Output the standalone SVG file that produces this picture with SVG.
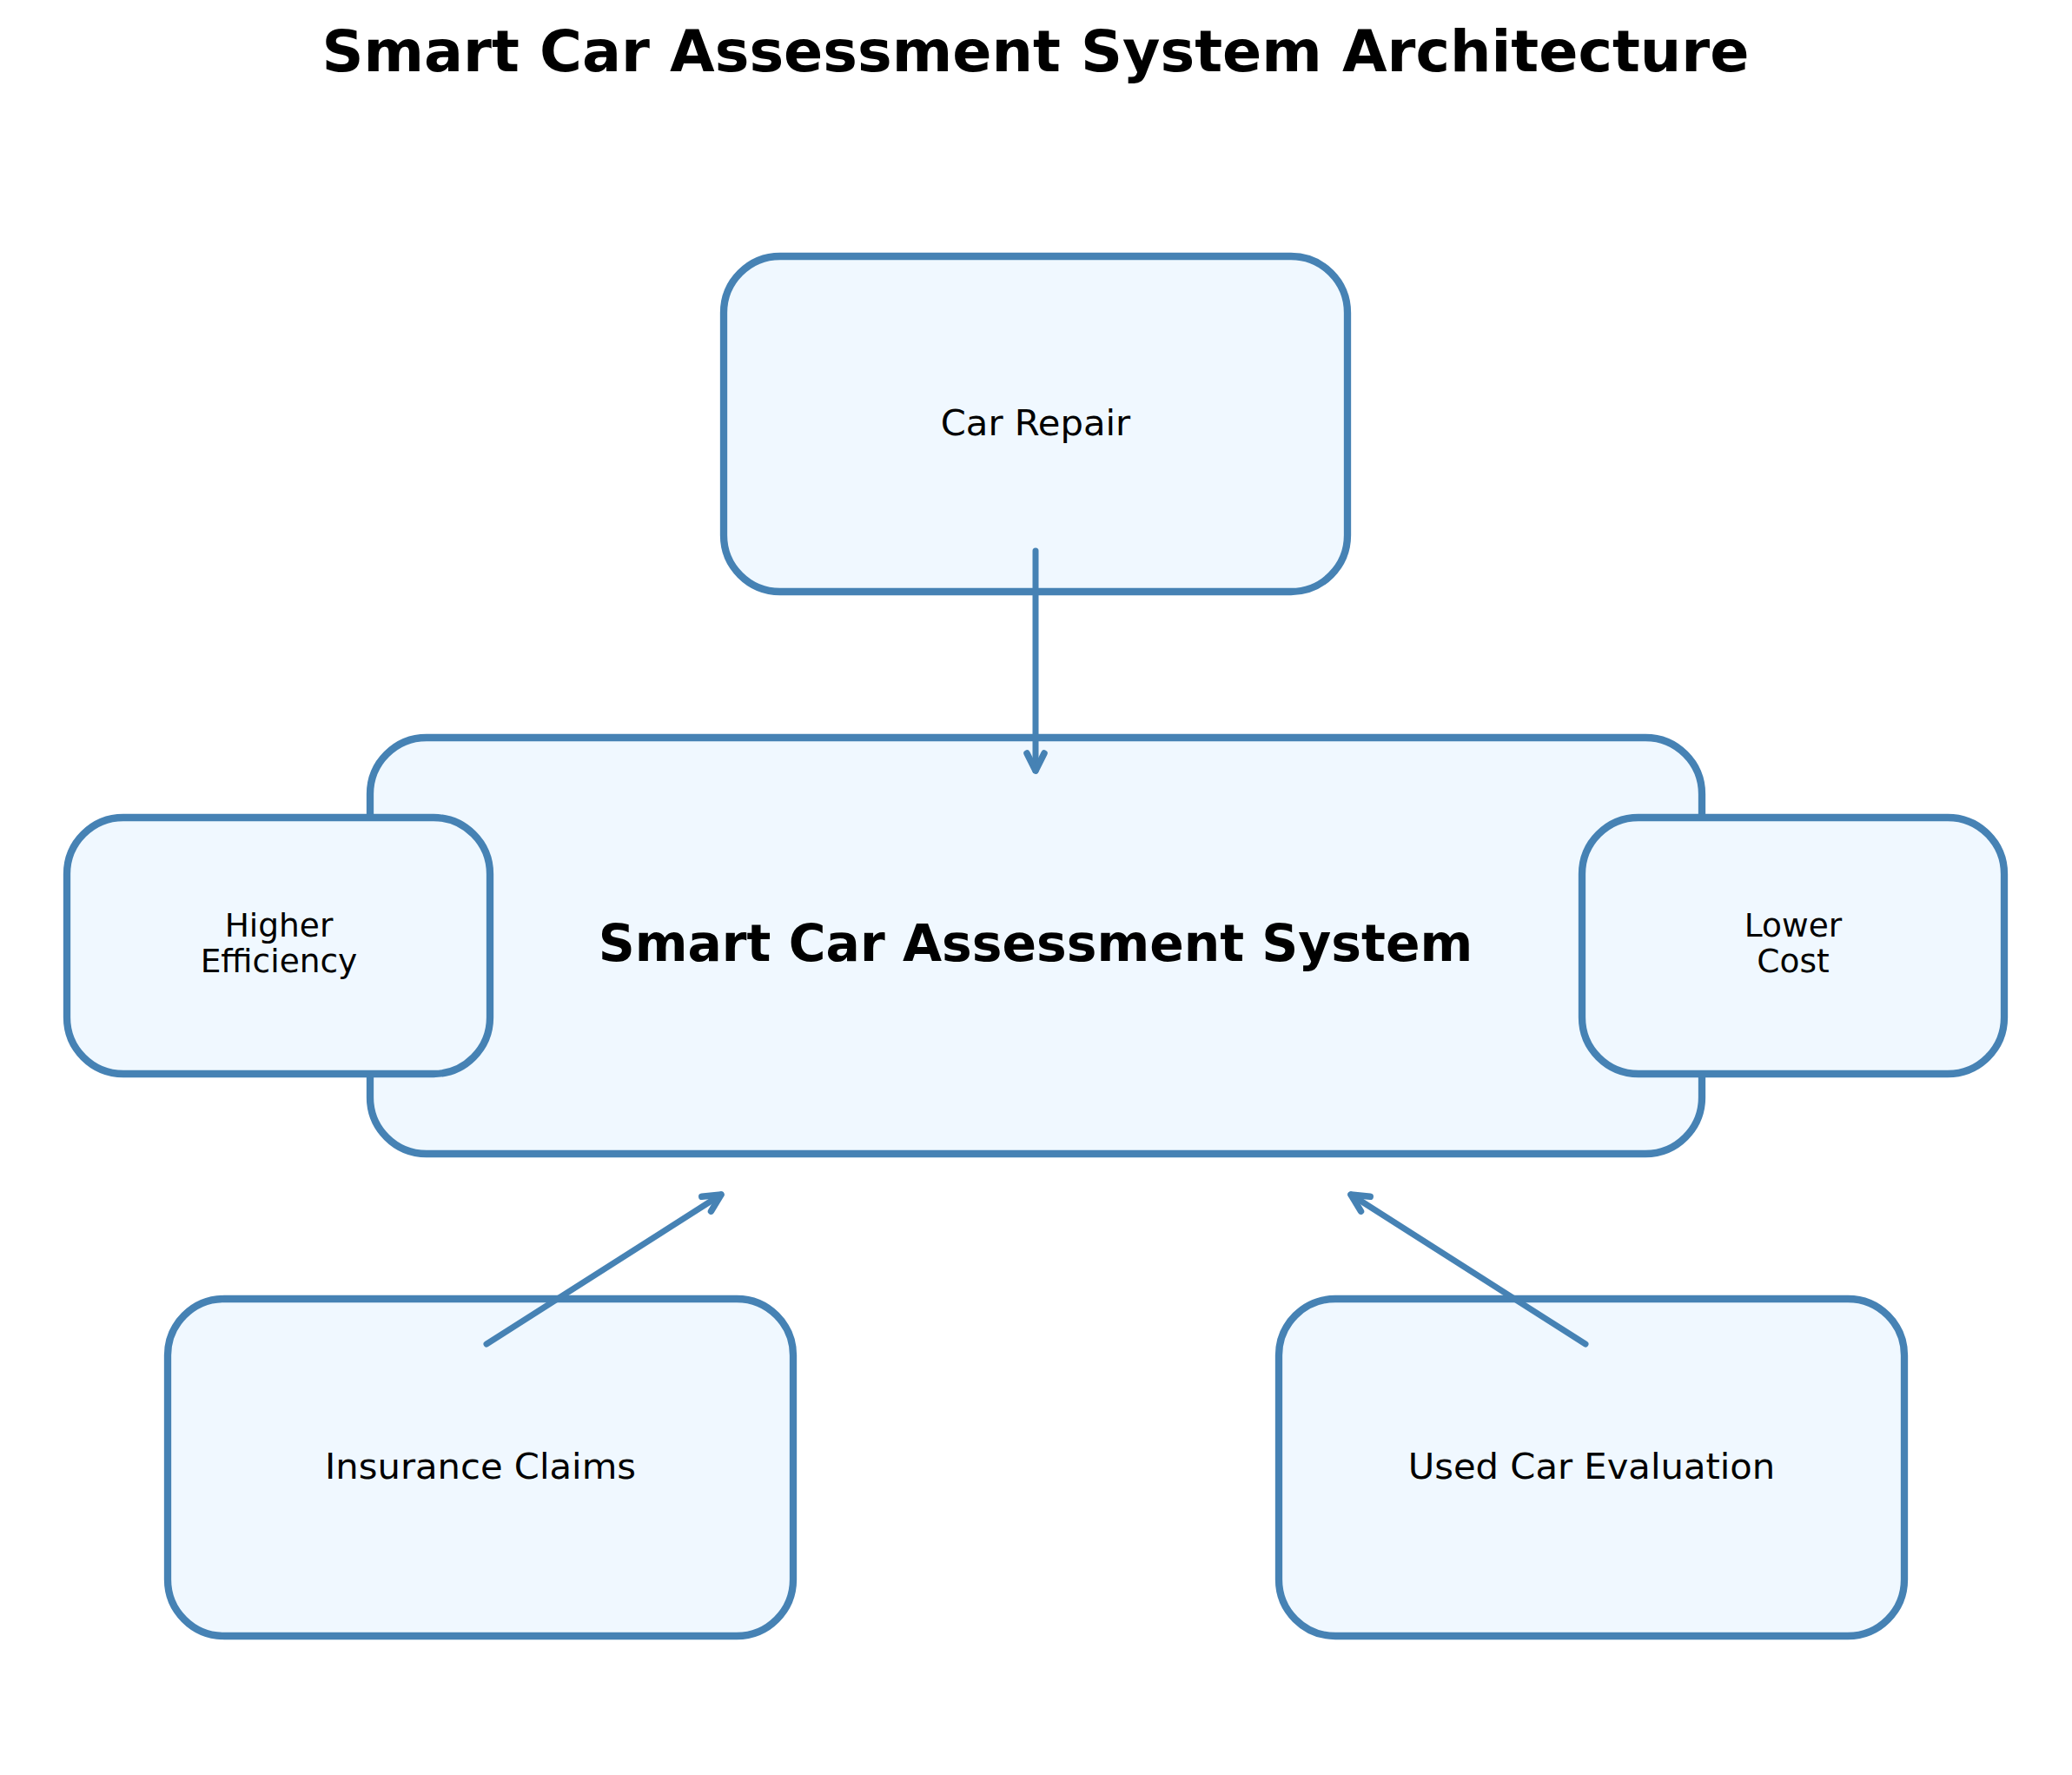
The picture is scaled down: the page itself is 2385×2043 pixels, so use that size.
<svg xmlns="http://www.w3.org/2000/svg" width="2385" height="2043" viewBox="0 0 2385 2043">
<style>
.box{fill:#F0F8FF;stroke:#4682B4;stroke-width:8.3}
.lbl{font-family:"DejaVu Sans",sans-serif;font-size:41.7px;fill:#000;text-anchor:middle}
.sm{font-family:"DejaVu Sans",sans-serif;font-size:37.5px;fill:#000;text-anchor:middle}
.main{font-family:"DejaVu Sans",sans-serif;font-size:58.3px;font-weight:bold;fill:#000;text-anchor:middle}
.title{font-family:"DejaVu Sans",sans-serif;font-size:66.7px;font-weight:bold;fill:#000;text-anchor:middle}
.conn{stroke:#4682B4;stroke-width:7;fill:none;stroke-linecap:round;marker-end:url(#ah)}
</style>
<defs>
<marker id="ah" markerUnits="userSpaceOnUse" viewBox="-30 -15 35 30" refX="0" refY="0" markerWidth="35" markerHeight="30" orient="auto" overflow="visible">
<path d="M -20,-10 L 0,0 L -20,10" fill="none" stroke="#4682B4" stroke-width="7.5" stroke-linecap="round" stroke-linejoin="round"/>
</marker>
</defs>
<rect width="2385" height="2043" fill="#fff"/>
<text class="title" x="1192" y="82">Smart Car Assessment System Architecture</text>
<g id="node-central">
<rect class="box" x="426" y="849" width="1533" height="479" rx="65" ry="65"/>
<text class="main" x="1192" y="1106">Smart Car Assessment System</text>
</g>
<g id="node-car-repair">
<rect class="box" x="833" y="295" width="718" height="386" rx="65" ry="65"/>
<text class="lbl" x="1192" y="501">Car Repair</text>
</g>
<g id="node-higher-efficiency">
<rect class="box" x="77" y="941" width="487" height="295" rx="65" ry="65"/>
<text class="sm" x="321" y="1078">Higher</text>
<text class="sm" x="321" y="1119">Efficiency</text>
</g>
<g id="node-lower-cost">
<rect class="box" x="1821" y="941" width="486" height="295" rx="65" ry="65"/>
<text class="sm" x="2064" y="1078">Lower</text>
<text class="sm" x="2064" y="1119">Cost</text>
</g>
<g id="node-insurance-claims">
<rect class="box" x="193" y="1495" width="720" height="388" rx="65" ry="65"/>
<text class="lbl" x="553" y="1702">Insurance Claims</text>
</g>
<g id="node-used-car-evaluation">
<rect class="box" x="1472" y="1495" width="720" height="388" rx="65" ry="65"/>
<text class="lbl" x="1832" y="1702">Used Car Evaluation</text>
</g>
<g id="connectors">
<line class="conn" x1="1192" y1="634" x2="1192" y2="887"/>
<line class="conn" x1="560" y1="1547" x2="830" y2="1375"/>
<line class="conn" x1="1825" y1="1547" x2="1555" y2="1375"/>
</g>
</svg>
